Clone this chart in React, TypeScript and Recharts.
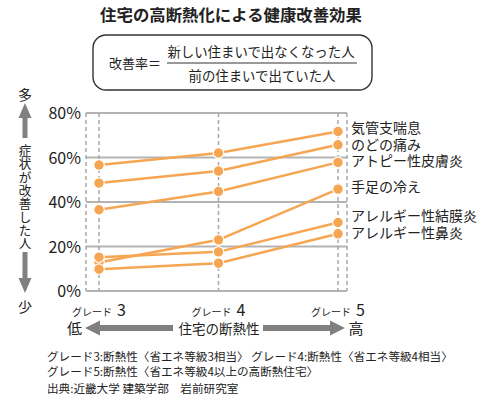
import React from 'react';
import { LineChart, Line, XAxis, YAxis, CartesianGrid, LabelList } from 'recharts';

const grades = ['3', '4', '5'];
const seriesNames = ['気管支喘息', 'のどの痛み', 'アトピー性皮膚炎', '手足の冷え', 'アレルギー性結膜炎', 'アレルギー性鼻炎'];
const asthma = [56.6, 62.0, 71.7];
const throat = [48.5, 53.9, 65.7];
const atopy = [36.5, 44.7, 57.8];
const coldLimbs = [12.8, 23.0, 45.8];
const conjunctivitis = [15.2, 17.6, 30.8];
const rhinitis = [9.8, 12.5, 25.7];
const yTicks = [0, 20, 40, 60, 80];

const seriesValues = [asthma, throat, atopy, coldLimbs, conjunctivitis, rhinitis];
const keys = ['s0', 's1', 's2', 's3', 's4', 's5'];
const labelDy = [-3, 0, -1, -2, -6, -1];

const data = grades.map((g, i) => {
  const row: any = { grade: g };
  seriesValues.forEach((vals, k) => {
    row[keys[k]] = vals[i];
  });
  return row;
});

const FONT = '"Noto Sans CJK JP", "Noto Sans", sans-serif';
const ORANGE = '#F6A552';
const GRAY = '#808080';

const XTick = (props: any) => {
  const { x, y, payload } = props;
  return (
    <text x={x} y={y + 17} textAnchor="middle" fontFamily={FONT} fill="#222">
      <tspan fontSize={10}>グレード</tspan>
      <tspan fontSize={16} dx={5}>{payload.value}</tspan>
    </text>
  );
};

const YTick = (props: any) => {
  const { x, y, payload } = props;
  return (
    <text x={x} y={y} dy={6} textAnchor="end" fontFamily={FONT} fontSize={16} fill="#222">
      {payload.value}%
    </text>
  );
};

const makeLabel = (k: number) => (props: any) => {
  const { x, y, index } = props;
  if (index !== grades.length - 1) return null;
  return (
    <text x={x + 13} y={y + labelDy[k]} dy={5} fontFamily={FONT} fontSize={14} fill="#222">
      {seriesNames[k]}
    </text>
  );
};

export default function App() {
  return (
    <div style={{ position: 'absolute', left: 0, top: 0, width: 500, height: 400, background: '#fff' }}>
      <svg width={500} height={400} style={{ position: 'absolute', left: 0, top: 0 }}>
        <text x={231} y={21} textAnchor="middle" fontFamily={FONT} fontSize={16.4} fontWeight="bold" fill="#222">
          住宅の高断熱化による健康改善効果
        </text>
        <rect x={93} y={35} width={279} height={55} rx={13} ry={13} fill="none" stroke="#333" strokeWidth={1.4} />
        <text x={109} y={68} fontFamily={FONT} fontSize={13} fill="#222">改善率＝</text>
        <text x={261} y={57} textAnchor="middle" fontFamily={FONT} fontSize={13.4} fill="#222">新しい住まいで出なくなった人</text>
        <line x1={167} y1={63} x2={357} y2={63} stroke="#333" strokeWidth={1} />
        <text x={262} y={81} textAnchor="middle" fontFamily={FONT} fontSize={13.4} fill="#222">前の住まいで出ていた人</text>

        {/* vertical axis annotation */}
        <text x={25} y={100} textAnchor="middle" fontFamily={FONT} fontSize={14} fill="#222">多</text>
        <polygon points="25,103 31.5,118 27.5,118 27.5,138 22.5,138 22.5,118 18.5,118" fill={GRAY} />
        <text x={25} y={144} fontFamily={FONT} fontSize={12.6} letterSpacing={0.7} fill="#222" style={{ writingMode: 'vertical-rl' as any }}>
          症状が改善した人
        </text>
        <polygon points="22.5,252 27.5,252 27.5,278 31.5,278 25,293 18.5,278 22.5,278" fill={GRAY} />
        <text x={25} y={312} textAnchor="middle" fontFamily={FONT} fontSize={14} fill="#222">少</text>

        {/* horizontal axis annotation */}
        <text x={74.5} y={334} textAnchor="middle" fontFamily={FONT} fontSize={15} fill="#222">低</text>
        <polygon points="85,328 100,320.5 100,325 173,325 173,331 100,331 100,335.5" fill={GRAY} />
        <text x={219} y={333.5} textAnchor="middle" fontFamily={FONT} fontSize={13.5} fill="#222">住宅の断熱性</text>
        <polygon points="263,325 330,325 330,320.5 345,328 330,335.5 330,331 263,331" fill={GRAY} />
        <text x={356} y={334} textAnchor="middle" fontFamily={FONT} fontSize={15} fill="#222">高</text>

        <text x={47} y={361} fontFamily={FONT} fontSize={11.6} fill="#222">グレード3:断熱性〈省エネ等級3相当〉 グレード4:断熱性〈省エネ等級4相当〉</text>
        <text x={47} y={376} fontFamily={FONT} fontSize={11.6} fill="#222">グレード5:断熱性〈省エネ等級4以上の高断熱住宅〉</text>
        <text x={47} y={393} fontFamily={FONT} fontSize={11.6} fill="#222">出典:近畿大学 建築学部　岩前研究室</text>
      </svg>
      <div style={{ position: 'absolute', left: 0, top: 0 }}>
        <LineChart width={500} height={400} data={data} margin={{ top: 113, right: 153, bottom: 79, left: 0 }}>
          <CartesianGrid horizontal={true} vertical={false} stroke="#b3b3b3" strokeWidth={2} />
          <CartesianGrid horizontal={false} vertical={true} stroke="#a8a8a8" strokeWidth={1.5} strokeDasharray="4 3" />
          <XAxis dataKey="grade" padding={{ left: 13, right: 9 }} axisLine={false} tickLine={false} tick={<XTick />} height={30} interval={0} />
          <YAxis domain={[0, 80]} ticks={yTicks} width={86} axisLine={false} tickLine={false} tickMargin={0} tickSize={5} tick={<YTick />} />
          {keys.map((k, i) => (
            <Line
              key={k}
              dataKey={k}
              stroke={ORANGE}
              strokeWidth={2.5}
              dot={{ r: 5.3, fill: ORANGE, stroke: '#fff', strokeWidth: 1.2 }}
              isAnimationActive={false}
            >
              <LabelList dataKey={k} content={makeLabel(i)} />
            </Line>
          ))}
        </LineChart>
      </div>
    </div>
  );
}
